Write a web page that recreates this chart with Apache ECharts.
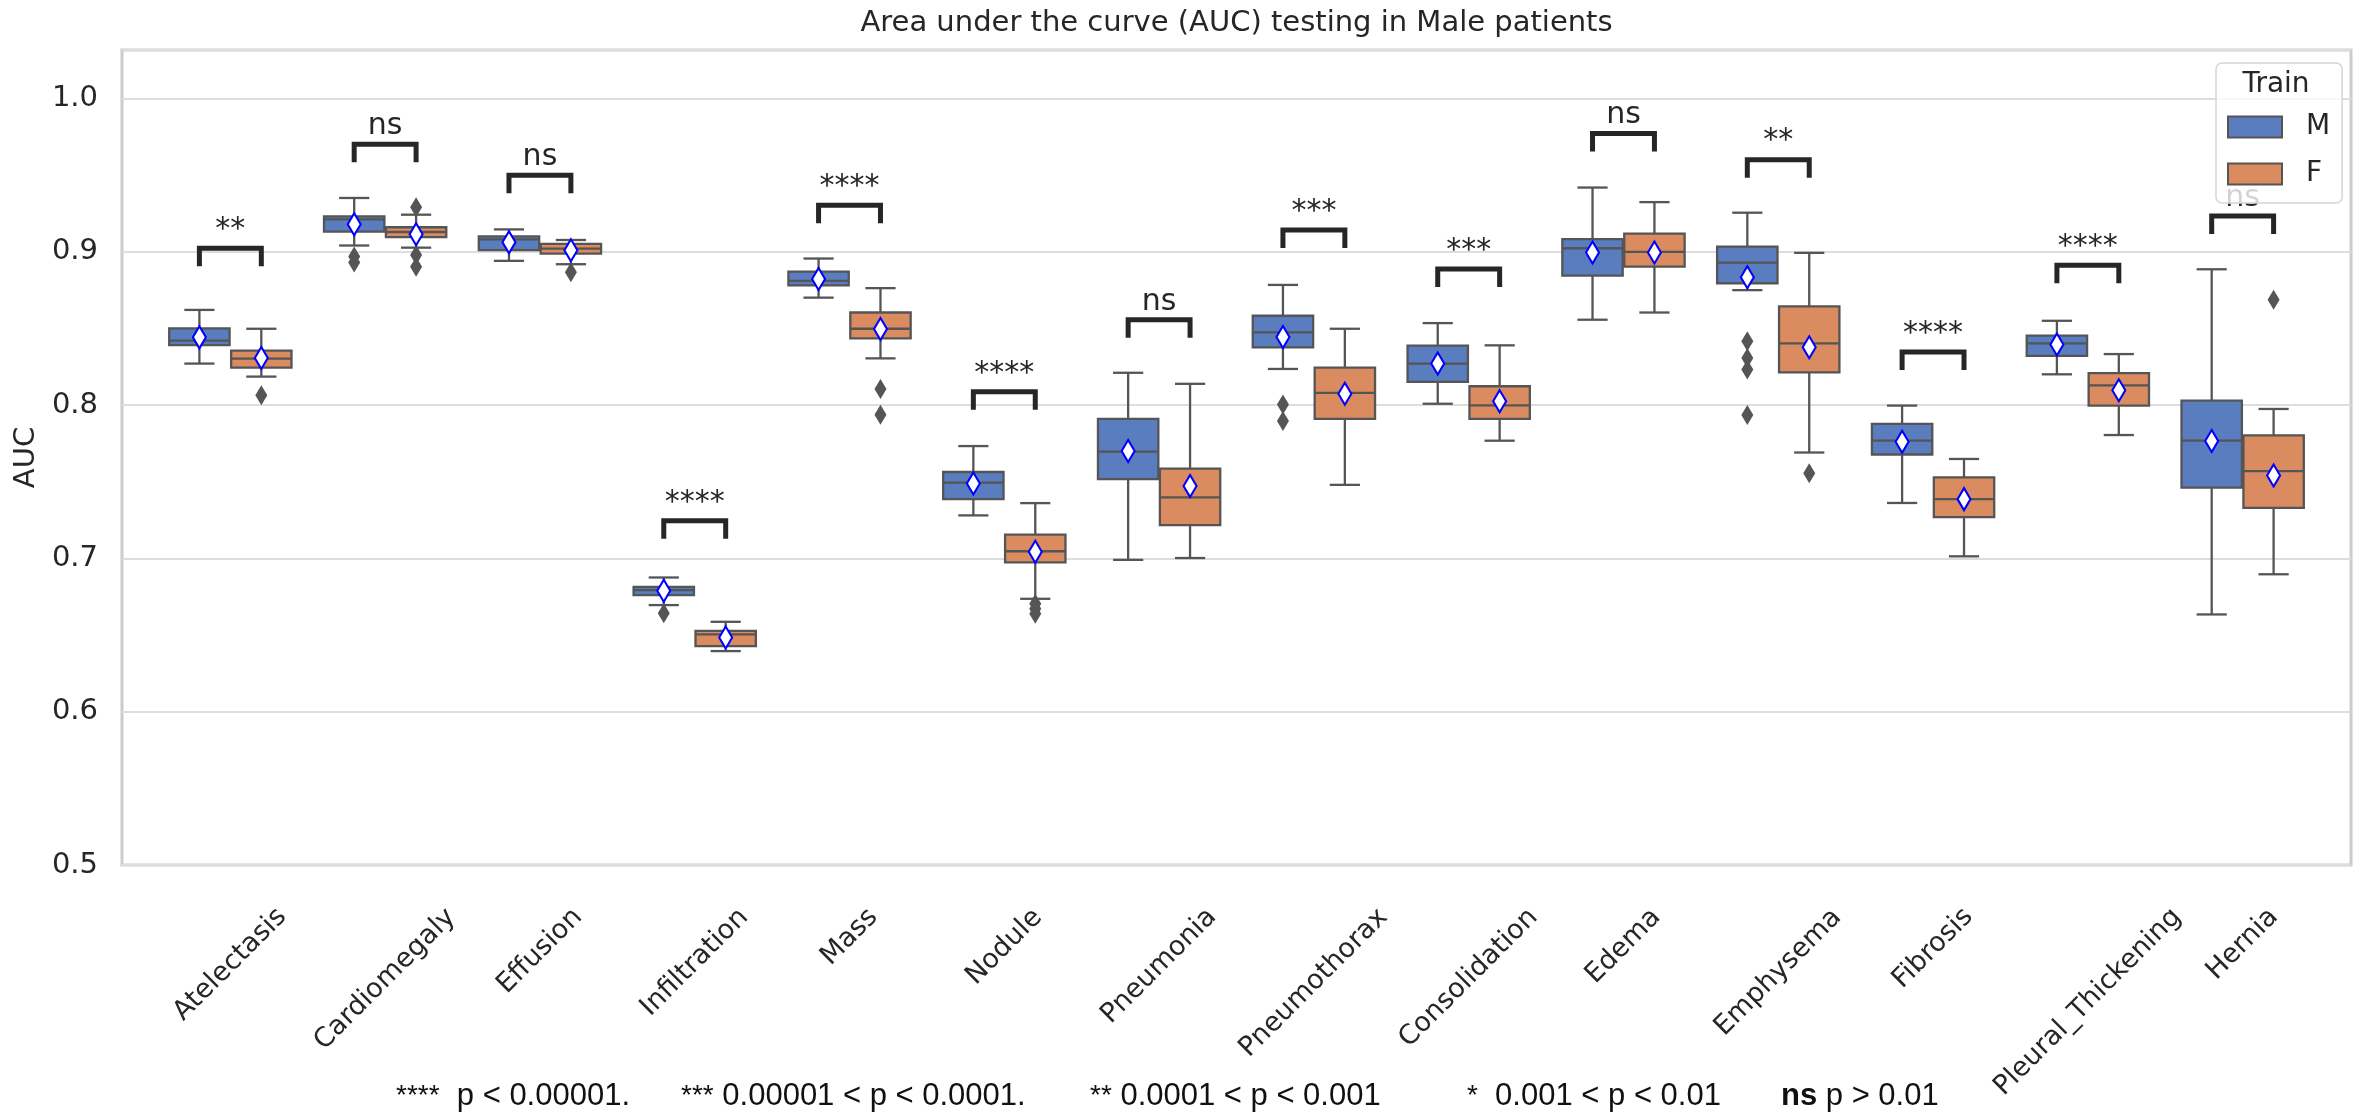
<!DOCTYPE html>
<html>
<head>
<meta charset="utf-8">
<title>AUC testing in Male patients</title>
<script src="https://cdn.jsdelivr.net/npm/echarts@6.0.0/dist/echarts.min.js"></script>
<style>
    html, body { margin: 0; padding: 0; background: #ffffff; }
    #main { width: 2364px; height: 1116px; }
</style>
</head>
<body>
<div id="main"></div>
<script>
// categories (diseases)
var categories = ['Atelectasis', 'Cardiomegaly', 'Effusion', 'Infiltration', 'Mass', 'Nodule', 'Pneumonia',
    'Pneumothorax', 'Consolidation', 'Edema', 'Emphysema', 'Fibrosis', 'Pleural_Thickening', 'Hernia'];

// box values: [lower whisker, Q1, median, Q3, upper whisker]
var boxM = [
    [0.827, 0.839, 0.842, 0.850, 0.862],
    [0.904, 0.913, 0.921, 0.923, 0.935],
    [0.894, 0.901, 0.908, 0.910, 0.9145],
    [0.6695, 0.676, 0.6793, 0.6814, 0.6875],
    [0.870, 0.878, 0.881, 0.887, 0.8955],
    [0.728, 0.7386, 0.7494, 0.7563, 0.7732],
    [0.699, 0.7516, 0.7696, 0.791, 0.821],
    [0.8235, 0.8376, 0.8473, 0.8582, 0.8783],
    [0.8008, 0.8151, 0.827, 0.8387, 0.8534],
    [0.8556, 0.8844, 0.9022, 0.9082, 0.9418],
    [0.8749, 0.8794, 0.8928, 0.9033, 0.9254],
    [0.7361, 0.7677, 0.7767, 0.7877, 0.7996],
    [0.820, 0.832, 0.8402, 0.8452, 0.8549],
    [0.6634, 0.7461, 0.7767, 0.8028, 0.8885]
];
var boxF = [
    [0.8185, 0.8244, 0.8302, 0.8354, 0.8497],
    [0.9026, 0.9095, 0.9128, 0.9159, 0.9241],
    [0.8918, 0.8987, 0.902, 0.905, 0.9076],
    [0.6395, 0.6428, 0.6504, 0.6527, 0.6586],
    [0.8304, 0.8434, 0.8497, 0.8603, 0.8762],
    [0.6736, 0.6974, 0.7046, 0.7154, 0.736],
    [0.7002, 0.7217, 0.7397, 0.7585, 0.8138],
    [0.7479, 0.791, 0.8079, 0.8244, 0.8497],
    [0.7767, 0.791, 0.7997, 0.8122, 0.8389],
    [0.8603, 0.8902, 0.8998, 0.9117, 0.9323],
    [0.769, 0.8213, 0.8402, 0.8643, 0.8992],
    [0.7013, 0.7269, 0.7386, 0.7528, 0.7648],
    [0.7804, 0.7996, 0.8128, 0.8208, 0.8332],
    [0.6896, 0.7329, 0.7568, 0.7802, 0.7974]
];

// means (white diamonds)
var meanM = [0.8441, 0.9178, 0.9061, 0.6788, 0.8822, 0.7488, 0.7700, 0.8443, 0.8270, 0.8994, 0.8833, 0.7760, 0.8394, 0.7765];
var meanF = [0.8307, 0.9113, 0.9009, 0.6484, 0.8495, 0.7043, 0.7472, 0.8073, 0.8025, 0.8994, 0.8377, 0.7386, 0.8096, 0.7540];

// outliers per category
var outlierM = [[], [0.8968, 0.8929], [], [0.6641], [], [], [], [0.8003, 0.7895], [], [],
    [0.8415, 0.8307, 0.8232, 0.7934], [], [], []];
var outlierF = [[0.8064], [0.9290, 0.8978, 0.8902], [0.8866], [], [0.8105, 0.7936], [0.6703, 0.6671, 0.6638],
    [], [], [], [], [0.7555], [], [], [0.8686]];

// significance brackets
var bracketTop = [0.9022, 0.970, 0.9498, 0.7245, 0.9303, 0.8086, 0.8556, 0.9141, 0.8887, 0.977, 0.960, 0.8345, 0.8912, 0.9233];
var sigLabels = ['**', 'ns', 'ns', '****', '****', '****', 'ns', '***', '***', 'ns', '**', '****', '****', 'ns'];

var footnotes = [
    {x: 396, text: '{s|****}  p < 0.00001.'},
    {x: 681, text: '{s|***} 0.00001 < p < 0.0001.'},
    {x: 1090, text: '{s|**} 0.0001 < p < 0.001'},
    {x: 1467, text: '{s|*}  0.001 < p < 0.01'},
    {x: 1781, text: '{b|ns} p > 0.01'}
];

var FONT = 'DejaVu Sans';
var TEXT = '#262626';
var EDGE = '#555555';
var BLUE = '#597dbf';
var ORANGE = '#da8b5f';
var GRID = {left: 122, top: 50, width: 2229, height: 815};
var OFFSET = 0.2;
var BOX_W = 0.39;
var LEG = 18;
var LABEL_SIZE = 27;

/**
 * 箱体绘制
 */
function boxRenderer(offset, fill) {
    return function (params, api) {
        var x = api.value(0) + offset;
        var low = api.coord([x, api.value(1)]);
        var q1 = api.coord([x, api.value(2)]);
        var med = api.coord([x, api.value(3)]);
        var q3 = api.coord([x, api.value(4)]);
        var high = api.coord([x, api.value(5)]);
        var w = api.size([BOX_W, 0], [x, 0])[0];
        var cx = low[0];
        var line = {stroke: EDGE, lineWidth: 2.3};
        return {
            type: 'group',
            children: [
                {type: 'line', shape: {x1: cx, y1: q1[1], x2: cx, y2: low[1]}, style: line},
                {type: 'line', shape: {x1: cx, y1: q3[1], x2: cx, y2: high[1]}, style: line},
                {type: 'line', shape: {x1: cx - w / 4, y1: low[1], x2: cx + w / 4, y2: low[1]}, style: line},
                {type: 'line', shape: {x1: cx - w / 4, y1: high[1], x2: cx + w / 4, y2: high[1]}, style: line},
                {type: 'rect', shape: {x: cx - w / 2, y: q3[1], width: w, height: q1[1] - q3[1]},
                    style: {fill: fill, stroke: EDGE, lineWidth: 2.3}},
                {type: 'line', shape: {x1: cx - w / 2, y1: med[1], x2: cx + w / 2, y2: med[1]}, style: line}
            ]
        };
    };
}

/**
 * 显著性括号
 */
function bracketRenderer(params, api) {
    var i = api.value(0);
    var left = api.coord([i - OFFSET, api.value(1)]);
    var right = api.coord([i + OFFSET, api.value(1)]);
    return {
        type: 'group',
        children: [
            {
                type: 'polyline',
                shape: {points: [[left[0], left[1] + LEG], left, right, [right[0], right[1] + LEG]]},
                style: {stroke: '#262626', lineWidth: 5, fill: 'none'}
            },
            {
                type: 'text',
                x: (left[0] + right[0]) / 2,
                y: left[1] - 3,
                style: {
                    text: sigLabels[params.dataIndex], align: 'center', verticalAlign: 'bottom',
                    fontSize: 30, fontFamily: FONT, fill: TEXT
                }
            }
        ]
    };
}

function boxData(rows) {
    return rows.map(function (b, i) { return [i].concat(b); });
}

function points(values, offset) {
    return values.map(function (v, i) { return [i + offset, v]; });
}

function outlierPoints(lists, offset) {
    var out = [];
    lists.forEach(function (vals, i) {
        vals.forEach(function (v) { out.push([i + offset, v]); });
    });
    return out;
}

// rotated labels: pad each so its box is centred under the tick with tops aligned
var ctx = document.createElement('canvas').getContext('2d');
ctx.font = LABEL_SIZE + 'px "' + FONT + '"';
var labelRich = {};
categories.forEach(function (name, i) {
    var p = Math.round(ctx.measureText(name).width / 2);
    labelRich['c' + i] = {padding: [p, p, 0, 0], fontSize: LABEL_SIZE, fontFamily: FONT, color: TEXT};
});

var myChart = echarts.init(document.getElementById('main'), null, {renderer: 'canvas'});
var option = {
    animation: false,
    backgroundColor: '#ffffff',
    grid: {
        left: GRID.left, top: GRID.top, width: GRID.width, height: GRID.height,
        show: true, borderColor: '#cccccc', borderWidth: 3,
        containLabel: false, outerBoundsMode: 'none'
    },
    legend: {
        orient: 'vertical',
        left: 2216,
        top: 63,
        padding: [50, 12, 15, 11],
        itemWidth: 54,
        itemHeight: 21,
        itemGap: 19,
        icon: 'rect',
        borderColor: '#d6d6d6',
        borderWidth: 1.5,
        borderRadius: 6,
        backgroundColor: 'rgba(255,255,255,0.8)',
        textStyle: {fontSize: 28, fontFamily: FONT, color: TEXT, lineHeight: 21, padding: [0, 0, 0, 19]},
        data: [
            {name: 'M', itemStyle: {color: BLUE, borderColor: EDGE, borderWidth: 2}},
            {name: 'F', itemStyle: {color: ORANGE, borderColor: EDGE, borderWidth: 2}}
        ],
        z: 10
    },
    graphic: [
        {
            type: 'text', x: GRID.left + GRID.width / 2, y: 23,
            style: {text: 'Area under the curve (AUC) testing in Male patients', align: 'center', verticalAlign: 'middle',
                fontSize: 29, fontFamily: FONT, fill: TEXT}
        },
        {
            type: 'text', x: 2276, y: 85, z: 20,
            style: {text: 'Train', align: 'center', verticalAlign: 'middle', fontSize: 28, fontFamily: FONT, fill: TEXT}
        }
    ].concat(footnotes.map(function (f) {
        return {
            type: 'text', x: f.x, y: 1096,
            style: {
                text: f.text, align: 'left', verticalAlign: 'middle',
                fontSize: 31, fontFamily: 'Liberation Sans', fill: '#111111',
                rich: {
                    s: {fontSize: 28, fontFamily: 'Liberation Sans', fill: '#111111'},
                    b: {fontSize: 31, fontFamily: 'Liberation Sans', fontWeight: 'bold', fill: '#111111'}
                }
            }
        };
    })),
    xAxis: {
        type: 'value',
        min: -0.7,
        max: 13.7,
        axisLine: {show: false},
        axisTick: {show: false},
        splitLine: {show: false},
        axisLabel: {
            customValues: categories.map(function (c, i) { return i; }),
            rotate: 45,
            align: 'center',
            verticalAlign: 'middle',
            margin: 48,
            showMinLabel: true,
            showMaxLabel: true,
            hideOverlap: false,
            fontSize: LABEL_SIZE,
            fontFamily: FONT,
            color: TEXT,
            formatter: function (value) {
                var i = Math.round(value);
                return '{c' + i + '|' + categories[i] + '}';
            },
            rich: labelRich
        }
    },
    yAxis: {
        type: 'value',
        min: 0.5,
        max: 1.0315,
        interval: 0.1,
        name: 'AUC',
        nameLocation: 'middle',
        nameGap: 80,
        nameTextStyle: {fontSize: 29, fontFamily: FONT, color: TEXT},
        axisLine: {show: false},
        axisTick: {show: false},
        axisLabel: {
            fontSize: 29, fontFamily: FONT, color: TEXT, margin: 24,
            showMaxLabel: false,
            formatter: function (v) { return v.toFixed(1); }
        },
        splitLine: {lineStyle: {color: '#dddddd', width: 2}}
    },
    series: [
        {
            name: 'M', type: 'custom', renderItem: boxRenderer(-OFFSET, BLUE),
            itemStyle: {color: BLUE}, encode: {x: 0, y: [1, 2, 3, 4, 5]},
            data: boxData(boxM), z: 2
        },
        {
            name: 'F', type: 'custom', renderItem: boxRenderer(OFFSET, ORANGE),
            itemStyle: {color: ORANGE}, encode: {x: 0, y: [1, 2, 3, 4, 5]},
            data: boxData(boxF), z: 2
        },
        {
            name: 'outliers M', type: 'scatter', symbol: 'diamond', symbolSize: [12, 20],
            itemStyle: {color: EDGE, opacity: 1}, data: outlierPoints(outlierM, -OFFSET), z: 3
        },
        {
            name: 'outliers F', type: 'scatter', symbol: 'diamond', symbolSize: [12, 20],
            itemStyle: {color: EDGE, opacity: 1}, data: outlierPoints(outlierF, OFFSET), z: 3
        },
        {
            name: 'mean M', type: 'scatter', symbol: 'diamond', symbolSize: [13, 22],
            itemStyle: {color: '#ffffff', borderColor: '#0000ff', borderWidth: 2.2, opacity: 1},
            data: points(meanM, -OFFSET), z: 4
        },
        {
            name: 'mean F', type: 'scatter', symbol: 'diamond', symbolSize: [13, 22],
            itemStyle: {color: '#ffffff', borderColor: '#0000ff', borderWidth: 2.2, opacity: 1},
            data: points(meanF, OFFSET), z: 4
        },
        {
            name: 'brackets', type: 'custom', renderItem: bracketRenderer,
            encode: {x: 0, y: 1},
            data: bracketTop.map(function (v, i) { return [i, v]; }), z: 5
        }
    ]
};
if (option && typeof option === "object") {
    myChart.setOption(option, true);
}
</script>
</body>
</html>
